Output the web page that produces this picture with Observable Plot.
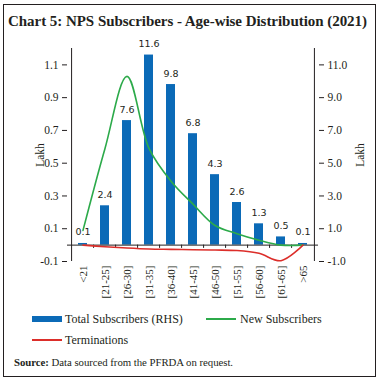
<!DOCTYPE html>
<html>
<head>
<meta charset="utf-8">
<script src="https://cdn.jsdelivr.net/npm/d3@7"></script>
<script src="https://cdn.jsdelivr.net/npm/@observablehq/plot@0.6"></script>
<style>
  html, body { margin: 0; padding: 0; background: #fff; }
  #wrap { position: relative; width: 379px; height: 382px; font-family: "Liberation Serif", serif; color: #231f20; overflow: hidden; }
  #frame { position: absolute; left: 3px; top: 4px; width: 371px; height: 371px; border: 1.5px solid #231f20; }
  #title { position: absolute; left: 8px; top: 12px; font-size: 15px; line-height: 18px; font-weight: bold; white-space: nowrap; }
  #chart { position: absolute; left: 0; top: 0; }
  .lg { position: absolute; font-size: 12px; line-height: 14px; white-space: nowrap; }
  .sw { position: absolute; }
  #source { position: absolute; left: 14px; top: 356px; font-size: 10.8px; line-height: 13px; white-space: nowrap; }
</style>
</head>
<body>
<div id="wrap">
  <div id="frame"></div>
  <div id="title">Chart 5: NPS Subscribers - Age-wise Distribution (2021)</div>
  <div id="chart"></div>
  <div class="sw" style="left:32px;top:316px;width:30px;height:6px;background:#0b6ab7"></div>
  <div class="lg" style="left:65px;top:312px">Total Subscribers (RHS)</div>
  <div class="sw" style="left:206px;top:318px;width:30px;height:2px;background:#2caa4a"></div>
  <div class="lg" style="left:240px;top:312px">New Subscribers</div>
  <div class="sw" style="left:32px;top:339px;width:30px;height:2px;background:#dc2e2a"></div>
  <div class="lg" style="left:65px;top:333px">Terminations</div>
  <div id="source"><b>Source:</b> Data sourced from the PFRDA on request.</div>
</div>
<script>
const categories = ["<21", "[21-25]", "[26-30]", "[31-35]", "[36-40]", "[41-45]", "[46-50]", "[51-55]", "[56-60]", "[61-65]", ">65"];
const totalSubscribers = [0.1, 2.4, 7.6, 11.6, 9.8, 6.8, 4.3, 2.6, 1.3, 0.5, 0.1];   // RHS, lakh
const newSubscribers = [0.09, 0.59, 1.03, 0.59, 0.39, 0.25, 0.12, 0.07, 0.03, 0.0, 0.0]; // LHS, lakh
const terminations = [0.0, -0.01, -0.018, -0.024, -0.026, -0.028, -0.03, -0.033, -0.05, -0.095, 0.0]; // LHS
const leftTicks = [-0.1, 0.1, 0.3, 0.5, 0.7, 0.9, 1.1];
const rightTicks = [-1, 1, 3, 5, 7, 9, 11];
const rightFactor = 10; // RHS = 10 x LHS

// fit text widths to the reference's widths
function fitSpacing(id, target) {
  const el = document.getElementById(id);
  const w = el.getBoundingClientRect().width;
  el.style.letterSpacing = ((target - w) / el.textContent.length) + "px";
}
fitSpacing("title", 359);
fitSpacing("source", 219);

const barsData = categories.map((c, i) => ({cat: c, v: totalSubscribers[i] / rightFactor, label: totalSubscribers[i].toFixed(1)}));
const newData = categories.map((c, i) => ({cat: c, v: newSubscribers[i]}));
const termData = categories.map((c, i) => ({cat: c, v: terminations[i]}));

const W = 379, H = 310, ML = 67, MR = 61, MT = 48, MB = 49;
const step = (W - ML - MR) / categories.length;

const chart = Plot.plot({
  width: W, height: H,
  marginLeft: ML, marginRight: MR, marginTop: MT, marginBottom: MB,
  style: {fontFamily: "Liberation Serif, serif", fontSize: "11.5px", color: "#231f20", background: "transparent"},
  x: {type: "band", domain: categories, paddingInner: 0.6, paddingOuter: 0.3},
  y: {domain: [-0.1, 1.2]},
  marks: [
    Plot.barY(barsData, {x: "cat", y1: 0, y2: "v", fill: "#0b6ab7"}),
    Plot.ruleY([0], {stroke: "#231f20", strokeWidth: 1}),
    Plot.ruleX(categories.slice(1), {x: d => d, y1: 0, y2: -0.02, dx: -step / 2, stroke: "#231f20"}),
    Plot.ruleX([categories[0]], {x: d => d, y1: -0.1, y2: 1.2, dx: -step / 2, stroke: "#231f20"}),
    Plot.ruleX([categories[categories.length - 1]], {x: d => d, y1: -0.1, y2: 1.2, dx: step / 2, stroke: "#231f20"}),
    Plot.line(newData, {x: "cat", y: "v", stroke: "#2caa4a", strokeWidth: 1.6, curve: "catmull-rom"}),
    Plot.line(termData, {x: "cat", y: "v", stroke: "#dc2e2a", strokeWidth: 1.6, curve: "catmull-rom"}),
    Plot.text(barsData, {x: "cat", y: "v", text: "label", dy: -8, lineAnchor: "bottom", fontFamily: "DejaVu Sans, sans-serif", fontSize: 9.5, fill: "#231f20"}),
    Plot.axisY({anchor: "left", ticks: leftTicks, tickFormat: d => d.toFixed(1), tickSize: 5, tickPadding: 4,
      label: "Lakh", labelAnchor: "center", labelOffset: 32, labelArrow: "none"}),
    Plot.axisY({anchor: "right", ticks: rightTicks.map(v => v / rightFactor), tickFormat: d => (d * rightFactor).toFixed(1), tickSize: 5, tickPadding: 4,
      label: "Lakh", labelAnchor: "center", labelOffset: 45, labelArrow: "none"}),
    Plot.axisX({anchor: "bottom", tickRotate: -90, tickSize: 0, tickPadding: 4, label: null, fontSize: 11})
  ]
});
document.getElementById("chart").appendChild(chart);
</script>
</body>
</html>
